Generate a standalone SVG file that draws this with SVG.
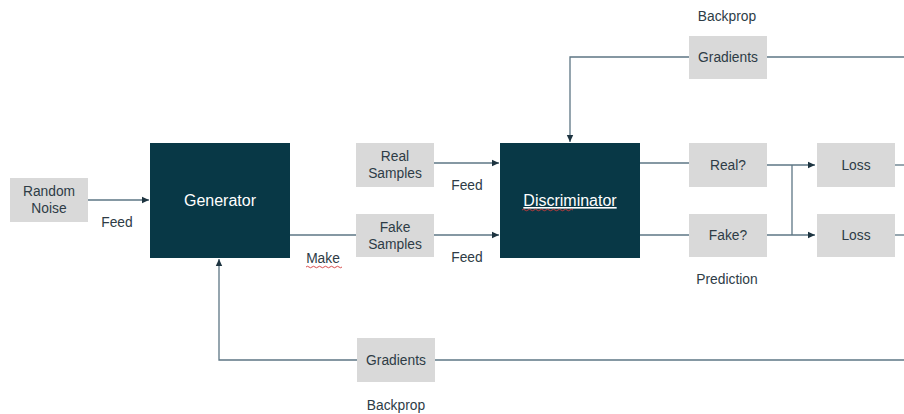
<svg xmlns="http://www.w3.org/2000/svg" width="904" height="414" viewBox="0 0 904 414">
<style>
.box{fill:#d9d9d9}
.dark{fill:#083846}
.t{font-family:"Liberation Sans",Arial,sans-serif;font-size:13.8px;fill:#2e3c46;text-anchor:middle}
.tw{font-family:"Liberation Sans",Arial,sans-serif;font-size:16px;fill:#ffffff;text-anchor:middle}
.ln{stroke:#5d7684;stroke-width:1.3;fill:none}
</style>
<defs>
<marker id="ah" markerWidth="8" markerHeight="8" refX="7" refY="4" orient="auto" markerUnits="userSpaceOnUse">
<path d="M0,0.8 L7,4 L0,7.2 Z" fill="#1d3440"/>
</marker>
</defs>
<rect width="904" height="414" fill="#ffffff"/>
<g id="connectors">
<line class="ln" x1="88" y1="200" x2="149" y2="200" marker-end="url(#ah)"/>
<line class="ln" x1="290" y1="235" x2="356" y2="235"/>
<line class="ln" x1="434" y1="163" x2="499" y2="163" marker-end="url(#ah)"/>
<line class="ln" x1="434" y1="235" x2="499" y2="235" marker-end="url(#ah)"/>
<line class="ln" x1="640" y1="163" x2="689" y2="163"/>
<line class="ln" x1="640" y1="235" x2="689" y2="235"/>
<line class="ln" x1="767" y1="165" x2="815" y2="165" marker-end="url(#ah)"/>
<line class="ln" x1="767" y1="235" x2="815" y2="235" marker-end="url(#ah)"/>
<line class="ln" x1="792" y1="165" x2="792" y2="235"/>
<line class="ln" x1="895" y1="165" x2="904" y2="165"/>
<line class="ln" x1="895" y1="235" x2="904" y2="235"/>
<polyline class="ln" points="689,57 570,57 570,142" marker-end="url(#ah)"/>
<line class="ln" x1="767" y1="57" x2="904" y2="57"/>
<polyline class="ln" points="357,360 219,360 219,259" marker-end="url(#ah)"/>
<line class="ln" x1="435" y1="360" x2="904" y2="360"/>
</g>
<g id="random-noise"><rect class="box" x="10" y="178" width="78" height="44"/><text class="t" x="49" y="196">Random</text><text class="t" x="49" y="213">Noise</text></g>
<g id="generator"><rect class="dark" x="150" y="143" width="140" height="115"/><text class="tw" x="220" y="206">Generator</text></g>
<g id="real-samples"><rect class="box" x="356" y="143" width="78" height="44"/><text class="t" x="395" y="161">Real</text><text class="t" x="395" y="178">Samples</text></g>
<g id="fake-samples"><rect class="box" x="356" y="214" width="78" height="43"/><text class="t" x="395" y="232">Fake</text><text class="t" x="395" y="249">Samples</text></g>
<g id="discriminator"><rect class="dark" x="500" y="143" width="140" height="115"/><text class="tw" x="570" y="206" text-decoration="underline">Discriminator</text><path d="M522,210 q1.5,-1.5 3,0 t3,0 t3,0 t3,0 t3,0 t3,0 t3,0 t3,0 t3,0 t3,0 t3,0 t3,0 t3,0 t3,0 t3,0 t3,0 t3,0" stroke="#d23a3a" stroke-width="0.9" fill="none"/></g>
<g id="gradients-top"><rect class="box" x="689" y="36" width="78" height="43"/><text class="t" x="728" y="62">Gradients</text></g>
<g id="real-q"><rect class="box" x="689" y="143" width="78" height="44"/><text class="t" x="728" y="170">Real?</text></g>
<g id="fake-q"><rect class="box" x="689" y="214" width="78" height="43"/><text class="t" x="728" y="240">Fake?</text></g>
<g id="loss1"><rect class="box" x="817" y="143" width="78" height="44"/><text class="t" x="856" y="170">Loss</text></g>
<g id="loss2"><rect class="box" x="817" y="214" width="78" height="43"/><text class="t" x="856" y="240">Loss</text></g>
<g id="gradients-bottom"><rect class="box" x="357" y="338" width="78" height="44"/><text class="t" x="396" y="365">Gradients</text></g>
<g id="labels">
<text class="t" x="117" y="227">Feed</text>
<text class="t" x="323" y="263">Make</text>
<path d="M306,267 q1.5,-1.5 3,0 t3,0 t3,0 t3,0 t3,0 t3,0 t3,0 t3,0 t3,0 t3,0 t3,0 t3,0" stroke="#d23a3a" stroke-width="0.9" fill="none"/>
<text class="t" x="467" y="190">Feed</text>
<text class="t" x="467" y="262">Feed</text>
<text class="t" x="727" y="21">Backprop</text>
<text class="t" x="727" y="284">Prediction</text>
<text class="t" x="396" y="410">Backprop</text>
</g>
</svg>
